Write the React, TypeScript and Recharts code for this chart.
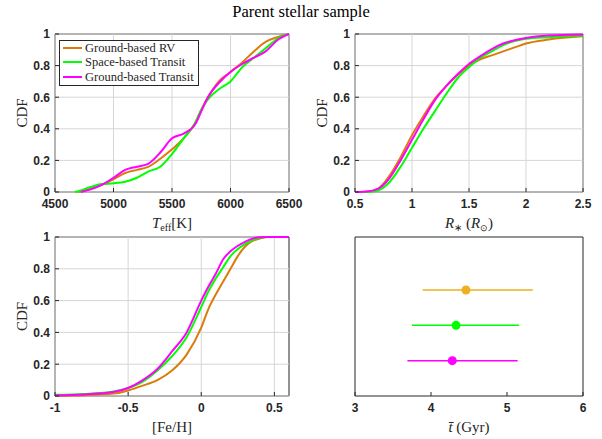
import React from "react";
import {
  LineChart,
  Line,
  ScatterChart,
  Scatter,
  ErrorBar,
  XAxis,
  YAxis,
  ReferenceArea,
  ReferenceLine,
  Legend,
} from "recharts";

// colours
const RV_COLOR = "#DB7B0C";
const SPACE_COLOR = "#00FF00";
const GROUND_COLOR = "#FF00FF";
const AGE_RV_COLOR = "#EDB120";
const AXIS = "#262626";
const GRID = "#d6d6d6";

const seriesNames = ["Ground-based RV", "Space-based Transit", "Ground-based Transit"];

// Teff CDF
const teffGrid = [4670, 4700, 4720, 4800, 4900, 5000, 5100, 5200, 5300, 5400, 5500, 5600, 5700, 5750, 5800, 5900, 6000, 6100, 6200, 6300, 6400, 6500];
const teffRV = [null, 0, 0.004, 0.02, 0.045, 0.08, 0.12, 0.14, 0.16, 0.21, 0.27, 0.34, 0.44, 0.52, 0.59, 0.7, 0.76, 0.82, 0.89, 0.95, 0.98, 1];
const teffSpace = [0, 0.005, 0.01, 0.03, 0.05, 0.055, 0.065, 0.09, 0.13, 0.16, 0.24, 0.34, 0.44, 0.52, 0.58, 0.65, 0.7, 0.79, 0.85, 0.91, 0.97, 1];
const teffGround = [null, null, 0, 0.015, 0.045, 0.09, 0.14, 0.16, 0.18, 0.25, 0.34, 0.37, 0.43, 0.51, 0.59, 0.69, 0.76, 0.81, 0.85, 0.89, 0.96, 1];
const teffTicks = [4500, 5000, 5500, 6000, 6500];

// radius CDF
const radGrid = [0.5, 0.6, 0.7, 0.8, 0.9, 1.0, 1.1, 1.2, 1.3, 1.4, 1.5, 1.6, 1.7, 1.8, 1.9, 2.0, 2.2, 2.5];
const radRV = [0, 0.002, 0.02, 0.1, 0.22, 0.36, 0.48, 0.59, 0.67, 0.74, 0.8, 0.84, 0.865, 0.89, 0.915, 0.94, 0.965, 0.985];
const radSpace = [0, 0, 0.01, 0.06, 0.16, 0.28, 0.4, 0.51, 0.62, 0.72, 0.79, 0.85, 0.89, 0.93, 0.955, 0.97, 0.98, 0.99];
const radGround = [0, 0.003, 0.02, 0.085, 0.2, 0.33, 0.46, 0.58, 0.67, 0.745, 0.81, 0.86, 0.905, 0.94, 0.96, 0.975, 0.99, 0.997];
const radTicks = [0.5, 1, 1.5, 2, 2.5];

// [Fe/H] CDF
const fehGrid = [-1, -0.8, -0.6, -0.5, -0.4, -0.3, -0.2, -0.1, 0, 0.05, 0.1, 0.15, 0.2, 0.25, 0.3, 0.35, 0.4, 0.45, 0.6];
const fehRV = [0.002, 0.005, 0.015, 0.035, 0.065, 0.1, 0.16, 0.26, 0.43, 0.55, 0.64, 0.72, 0.8, 0.88, 0.94, 0.975, 0.99, 1, 1];
const fehSpace = [0.008, 0.013, 0.028, 0.05, 0.09, 0.16, 0.25, 0.37, 0.56, 0.66, 0.74, 0.81, 0.88, 0.925, 0.955, 0.98, 0.995, 1, 1];
const fehGround = [0.003, 0.01, 0.025, 0.05, 0.1, 0.17, 0.28, 0.4, 0.6, 0.69, 0.77, 0.86, 0.91, 0.945, 0.97, 0.99, 0.998, 1, 1];
const fehTicks = [-1, -0.5, 0, 0.5];

const cdfTicks = [0, 0.2, 0.4, 0.6, 0.8, 1];

// mean ages
const ageMean = [4.46, 4.33, 4.28];
const ageLow = [3.89, 3.75, 3.69];
const ageHigh = [5.34, 5.16, 5.14];
const ageRow = [3, 2, 1];
const ageTicks = [3, 4, 5, 6];

const serif = "Liberation Serif";

const toPoints = (grid: number[], vals: (number | null)[]) =>
  grid.map((x, i) => ({ x, y: vals[i] }));

// bold MATLAB-style tick labels
const xTick = (props: any) => (
  <text x={props.x} y={props.y} dy="0.71em" textAnchor="middle" fontFamily="Liberation Sans" fontWeight="bold" fontSize={12} fill={AXIS}>
    {props.payload.value}
  </text>
);
const yTick = (props: any) => (
  <text x={props.x} y={props.y} dy="0.36em" textAnchor="end" fontFamily="Liberation Sans" fontWeight="bold" fontSize={12} fill={AXIS}>
    {props.payload.value}
  </text>
);

const yLabel = (props: any) => {
  const vb = props.viewBox;
  const x = vb.x + 12;
  const y = vb.y + vb.height / 2;
  return (
    <text x={x} y={y} transform={`rotate(-90, ${x}, ${y})`} textAnchor="middle" fontFamily={serif} fontSize={15} fill={AXIS}>
      CDF
    </text>
  );
};

const xLabel = (content: React.ReactNode) => (props: any) => {
  const vb = props.viewBox;
  return (
    <text x={vb.x + vb.width / 2} y={vb.y + 36} textAnchor="middle" fontFamily={serif} fontSize={15} fill={AXIS}>
      {content}
    </text>
  );
};

const teffLabel = (
  <>
    <tspan fontStyle="italic">T</tspan>
    <tspan fontSize={10} dy={3}>eff</tspan>
    <tspan dy={-3}>[K]</tspan>
  </>
);
const radLabel = (
  <>
    <tspan fontStyle="italic">R</tspan>
    <tspan fontSize={10} dy={3}>∗</tspan>
    <tspan dy={-3}> (</tspan>
    <tspan fontStyle="italic">R</tspan>
    <tspan fontSize={9} dy={3}>⊙</tspan>
    <tspan dy={-3}>)</tspan>
  </>
);
const fehLabel = <tspan>[Fe/H]</tspan>;
const ageLabel = (
  <>
    <tspan fontStyle="italic">t̄</tspan>
    <tspan> (Gyr)</tspan>
  </>
);

const legendColors = [RV_COLOR, SPACE_COLOR, GROUND_COLOR];

const LegendBox = () => (
  <div
    style={{
      border: `1px solid ${AXIS}`,
      background: "#fff",
      padding: "0 4px 1px 3px",
      fontFamily: serif,
      fontSize: 12.5,
      lineHeight: "14.3px",
      color: AXIS,
    }}
  >
    {seriesNames.map((n, i) => (
      <div key={n} style={{ display: "flex", alignItems: "center", whiteSpace: "nowrap" }}>
        <span style={{ display: "inline-block", width: 19, borderTop: `2px solid ${legendColors[i]}`, marginRight: 3 }} />
        {n}
      </div>
    ))}
  </div>
);

type CdfProps = {
  left: number;
  top: number;
  width: number;
  height: number;
  marginTop: number;
  marginLeft: number;
  marginRight: number;
  grid: number[];
  rv: (number | null)[];
  space: (number | null)[];
  ground: (number | null)[];
  domain: [number, number];
  ticks: number[];
  label: React.ReactNode;
  legend?: boolean;
};

function CdfPanel(p: CdfProps) {
  return (
    <div style={{ position: "absolute", left: p.left, top: p.top }}>
      <LineChart
        width={p.width}
        height={p.height}
        margin={{ top: p.marginTop, right: p.marginRight, bottom: 0, left: p.marginLeft }}
      >
        <XAxis
          dataKey="x"
          type="number"
          domain={p.domain}
          ticks={p.ticks}
          interval={0}
          allowDataOverflow
          height={40}
          axisLine={false}
          tickSize={-4}
          tickMargin={11}
          tickLine={{ stroke: AXIS }}
          tick={xTick}
          label={xLabel(p.label)}
        />
        <XAxis
          xAxisId="top"
          orientation="top"
          dataKey="x"
          type="number"
          domain={p.domain}
          ticks={p.ticks}
          interval={0}
          allowDataOverflow
          height={0}
          axisLine={false}
          tickSize={-4}
          tickLine={{ stroke: AXIS }}
          tickFormatter={() => ""}
        />
        <YAxis
          type="number"
          domain={[0, 1]}
          ticks={cdfTicks}
          interval={0}
          width={40}
          axisLine={false}
          tickSize={-4}
          tickMargin={9}
          tickLine={{ stroke: AXIS }}
          tick={yTick}
          label={yLabel}
        />
        <YAxis
          yAxisId="right"
          orientation="right"
          type="number"
          domain={[0, 1]}
          ticks={cdfTicks}
          interval={0}
          width={0}
          axisLine={false}
          tickSize={-4}
          tickLine={{ stroke: AXIS }}
          tickFormatter={() => ""}
        />
        {p.ticks.map((t) => (
          <ReferenceLine key={`gx${t}`} x={t} stroke={GRID} strokeWidth={1} />
        ))}
        {cdfTicks.map((t) => (
          <ReferenceLine key={`gy${t}`} y={t} stroke={GRID} strokeWidth={1} />
        ))}
        <Line data={toPoints(p.grid, p.rv)} dataKey="y" name={seriesNames[0]} type="monotone" stroke={RV_COLOR} strokeWidth={2} dot={false} isAnimationActive={false} />
        <Line data={toPoints(p.grid, p.space)} dataKey="y" name={seriesNames[1]} type="monotone" stroke={SPACE_COLOR} strokeWidth={2} dot={false} isAnimationActive={false} />
        <Line data={toPoints(p.grid, p.ground)} dataKey="y" name={seriesNames[2]} type="monotone" stroke={GROUND_COLOR} strokeWidth={2} dot={false} isAnimationActive={false} />
        <ReferenceArea x1={p.domain[0]} x2={p.domain[1]} y1={0} y2={1} fill="none" stroke={AXIS} strokeWidth={1} ifOverflow="visible" />
        {p.legend && (
          <Legend
            layout="vertical"
            align="center"
            verticalAlign="middle"
            content={() => <LegendBox />}
            wrapperStyle={{ left: 59, top: 40, width: 140 }}
          />
        )}
      </LineChart>
    </div>
  );
}

const ageColors = [AGE_RV_COLOR, SPACE_COLOR, GROUND_COLOR];

function AgePanel() {
  return (
    <div style={{ position: "absolute", left: 300, top: 200 }}>
      <ScatterChart width={302} height={236} margin={{ top: 37, right: 19, bottom: 0, left: 55 }}>
        <XAxis
          dataKey="x"
          type="number"
          domain={[3, 6]}
          ticks={ageTicks}
          interval={0}
          height={40}
          axisLine={false}
          tickSize={-4}
          tickMargin={11}
          tickLine={{ stroke: AXIS }}
          tick={xTick}
          label={xLabel(ageLabel)}
        />
        <XAxis
          xAxisId="top"
          orientation="top"
          dataKey="x"
          type="number"
          domain={[3, 6]}
          ticks={ageTicks}
          interval={0}
          height={0}
          axisLine={false}
          tickSize={-4}
          tickLine={{ stroke: AXIS }}
          tickFormatter={() => ""}
        />
        <YAxis dataKey="y" type="number" domain={[0, 4.5]} hide />
        {seriesNames.map((n, i) => (
          <Scatter
            key={n}
            name={n}
            data={[{ x: ageMean[i], y: ageRow[i], err: [ageMean[i] - ageLow[i], ageHigh[i] - ageMean[i]] }]}
            fill={ageColors[i]}
            isAnimationActive={false}
            shape={(s: any) => <circle cx={s.cx} cy={s.cy} r={4.5} fill={ageColors[i]} />}
          >
            <ErrorBar dataKey="err" direction="x" width={0} stroke={ageColors[i]} strokeWidth={1.5} isAnimationActive={false} />
          </Scatter>
        ))}
        <ReferenceArea x1={3} x2={6} y1={0} y2={4.5} fill="none" stroke={AXIS} strokeWidth={1} ifOverflow="visible" />
      </ScatterChart>
    </div>
  );
}

export default function App() {
  return (
    <div style={{ position: "absolute", left: 0, top: 0, width: 602, height: 439, background: "#fff" }}>
      <div
        style={{
          position: "absolute",
          left: 0,
          top: 2,
          width: 602,
          textAlign: "center",
          fontFamily: serif,
          fontSize: 16.5,
          lineHeight: "20px",
          color: "#000",
        }}
      >
        Parent stellar sample
      </div>
      <CdfPanel left={0} top={0} width={315} height={232} marginTop={34} marginLeft={15} marginRight={26}
        grid={teffGrid} rv={teffRV} space={teffSpace} ground={teffGround}
        domain={[4500, 6500]} ticks={teffTicks} label={teffLabel} legend />
      <CdfPanel left={300} top={0} width={302} height={232} marginTop={34} marginLeft={15} marginRight={19}
        grid={radGrid} rv={radRV} space={radSpace} ground={radGround}
        domain={[0.5, 2.5]} ticks={radTicks} label={radLabel} />
      <CdfPanel left={0} top={200} width={315} height={236} marginTop={37} marginLeft={15} marginRight={26}
        grid={fehGrid} rv={fehRV} space={fehSpace} ground={fehGround}
        domain={[-1, 0.6]} ticks={fehTicks} label={fehLabel} />
      <AgePanel />
    </div>
  );
}
